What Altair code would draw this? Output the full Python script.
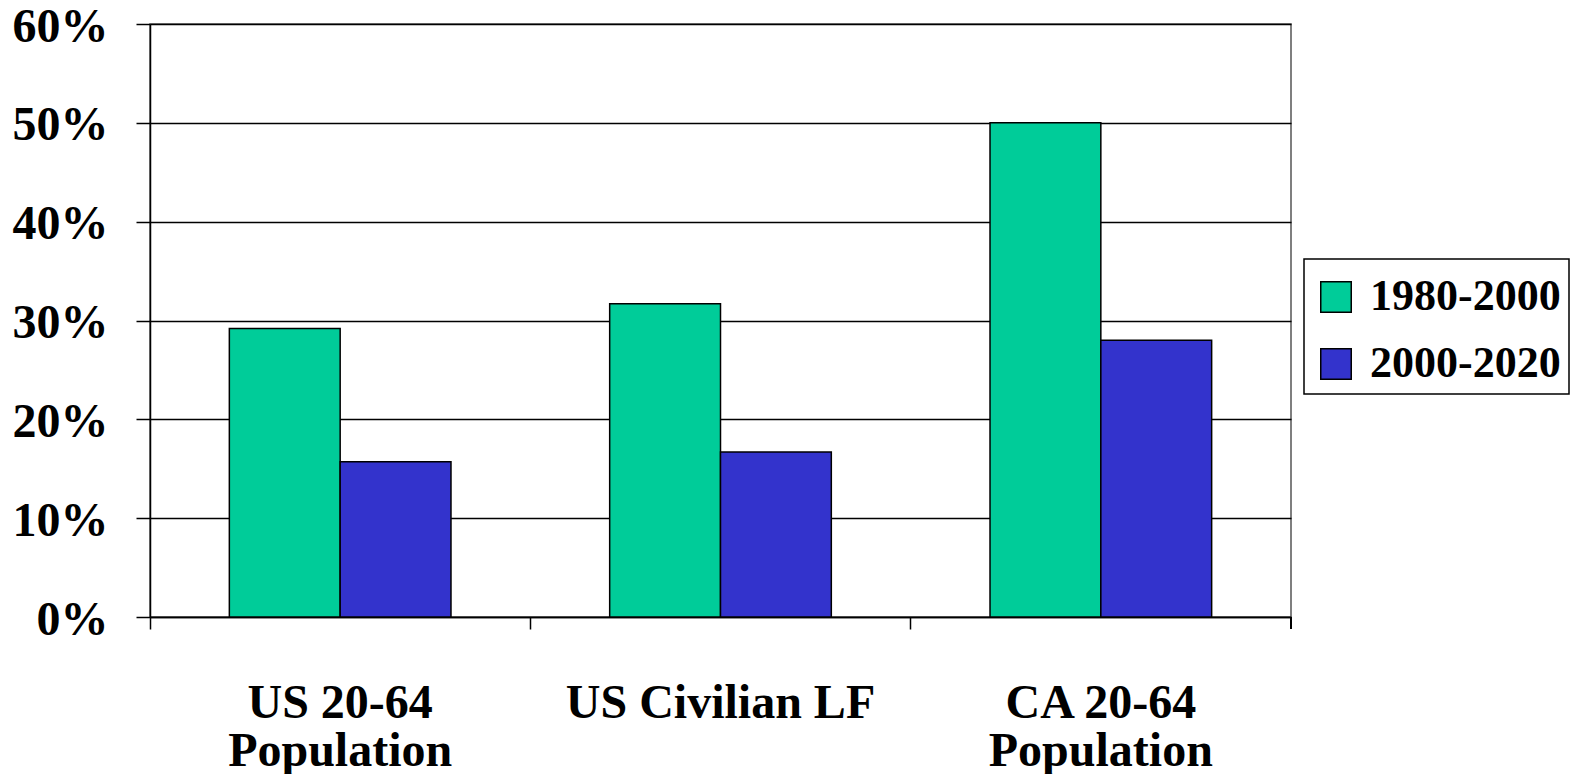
import altair as alt
import pandas as pd

categories = ["US 20-64\nPopulation", "US Civilian LF", "CA 20-64\nPopulation"]
periods = ["1980-2000", "2000-2020"]
growth_1980_2000 = [29.2, 31.7, 50.0]
growth_2000_2020 = [15.7, 16.7, 28.0]
colors = ["#00CC99", "#3333CC"]
y_ticks = [0, 10, 20, 30, 40, 50, 60]

rows = []
for c, a, b in zip(categories, growth_1980_2000, growth_2000_2020):
    rows.append({"category": c, "period": periods[0], "value": a})
    rows.append({"category": c, "period": periods[1], "value": b})
df = pd.DataFrame(rows)

W, H = 1141, 593
FONT = "Liberation Serif"
FS = 48
LFS = 44

bars = alt.Chart(df).mark_bar(stroke="black", strokeWidth=1.5).encode(
    x=alt.X(
        "category:N", sort=categories, title=None,
        scale=alt.Scale(paddingInner=0, paddingOuter=0),
        axis=alt.Axis(
            bandPosition=0, labelAngle=0,
            labelExpr="split(datum.label, '\\n')",
            labelFont=FONT, labelFontSize=FS, labelFontWeight="bold",
            labelColor="black", labelPadding=50, labelLineHeight=48,
            labelLimit=0,
            tickSize=12, tickColor="black", tickWidth=1.5,
            domainColor="black", domainWidth=1.5, grid=False,
        ),
    ),
    xOffset=alt.XOffset(
        "period:N", sort=periods,
        scale=alt.Scale(paddingOuter=0.716, paddingInner=0),
    ),
    y=alt.Y(
        "value:Q", title=None,
        scale=alt.Scale(domain=[0, 60]),
        axis=alt.Axis(
            values=y_ticks, labelExpr="datum.value + '%'",
            labelFont=FONT, labelFontSize=FS, labelFontWeight="bold",
            labelColor="black", labelPadding=28, labelLimit=0, labelOffset=3,
            tickSize=14, tickColor="black", tickWidth=1.5,
            domainColor="black", domainWidth=1.5,
            grid=True, gridColor="black", gridWidth=1.5, gridOpacity=1,
        ),
    ),
    color=alt.Color(
        "period:N",
        scale=alt.Scale(domain=periods, range=colors),
        legend=alt.Legend(
            title=" ", titleFontSize=1, titlePadding=7,
            orient="none", legendX=1154, legendY=235,
            strokeColor="black", padding=8,
            symbolType="square", symbolSize=930, symbolOffset=2,
            symbolStrokeColor="black", symbolStrokeWidth=1.5,
            symbolOpacity=1, labelLimit=0,
            labelFont=FONT, labelFontSize=LFS, labelFontWeight="bold",
            labelColor="black", labelOffset=12, rowPadding=23,
        ),
    ),
)

end_tick = alt.Chart(df).mark_rule(color="black", strokeWidth=1.5).encode(
    x=alt.value(W), y=alt.value(H), y2=alt.value(H + 12)
)

chart = alt.layer(bars, end_tick).properties(
    width=W, height=H,
    autosize=alt.AutoSizeParams(type="none"),
    padding={"left": 142, "top": 16, "right": 293, "bottom": 157},
).configure_view(stroke="#555", strokeWidth=1.5).configure_legend(strokeWidth=1.5)

chart.save("out.html", embed_options={"renderer": "svg", "actions": False})
